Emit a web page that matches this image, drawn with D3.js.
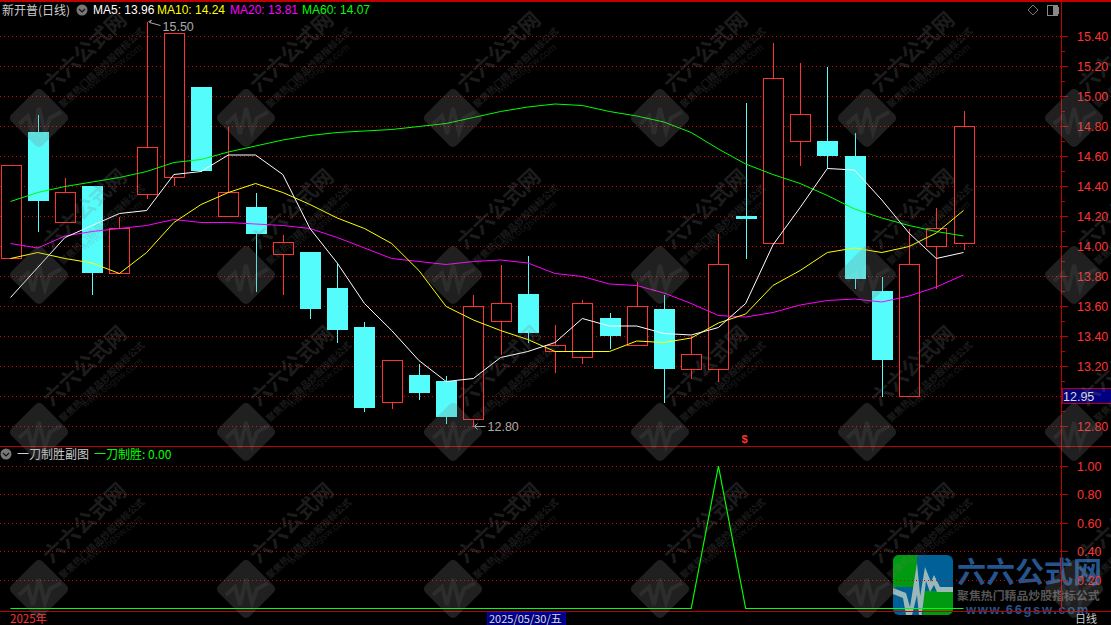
<!DOCTYPE html>
<html><head><meta charset="utf-8">
<style>html,body{margin:0;padding:0;background:#000;overflow:hidden}svg{display:block}text{font-family:"Liberation Sans",Arial,sans-serif}.cjk{font-family:"Noto Sans CJK SC","Liberation Sans",sans-serif}.crisp line,.crisp rect{shape-rendering:crispEdges}</style>
<script src="https://cdn.jsdelivr.net/npm/d3@7"></script></head><body><svg id="c" width="1111" height="625"></svg>
<script>
const opens =[13.92,14.76,14.16,14.40,13.82,14.35,14.46,15.06,14.20,14.26,13.95,13.96,13.72,13.46,12.96,13.14,13.10,12.85,13.50,13.68,13.30,13.26,13.52,13.34,13.58,13.18,13.18,14.20,14.02,14.70,14.70,14.60,13.70,13.00,14.00,14.02];
const closes=[14.54,14.30,14.36,13.82,14.12,14.66,15.42,14.50,14.36,14.08,14.03,13.58,13.44,12.92,13.24,13.02,12.86,13.60,13.62,13.42,13.34,13.62,13.40,13.60,13.18,13.28,13.88,14.18,15.12,14.88,14.60,13.78,13.24,13.88,14.12,14.80];
const highs =[14.54,14.88,14.46,14.41,14.20,15.50,15.42,15.06,14.80,14.36,14.08,13.96,13.89,13.50,13.24,13.22,13.14,13.68,13.88,13.94,13.48,13.65,13.56,13.77,13.68,13.41,14.09,14.96,15.36,15.23,15.20,14.76,13.80,14.12,14.26,14.91];
const lows  =[13.92,14.10,14.16,13.68,13.82,14.32,14.41,14.50,14.20,13.70,13.68,13.52,13.36,12.90,12.92,12.98,12.82,12.80,13.28,13.36,13.16,13.22,13.32,13.34,12.96,13.12,13.10,13.92,14.02,14.54,14.52,13.72,13.00,13.00,13.72,13.98];
const ma5 =[13.66,13.86,14.06,14.14,14.22,14.24,14.48,14.50,14.61,14.61,14.48,14.12,13.89,13.62,13.44,13.24,13.10,13.12,13.26,13.30,13.36,13.52,13.47,13.47,13.42,13.41,13.46,13.62,14.01,14.26,14.52,14.51,14.31,14.09,13.92,13.96];
const ma10=[13.92,13.96,13.92,13.89,13.82,13.96,14.16,14.28,14.36,14.42,14.36,14.28,14.19,14.12,14.02,13.84,13.60,13.51,13.44,13.38,13.30,13.30,13.30,13.37,13.36,13.39,13.49,13.55,13.74,13.84,13.96,13.99,13.96,14.00,14.09,14.24];
const ma20=[14.02,13.99,14.07,14.10,14.12,14.14,14.18,14.16,14.16,14.15,14.14,14.12,14.06,13.99,13.92,13.90,13.88,13.90,13.91,13.89,13.82,13.80,13.75,13.74,13.69,13.62,13.54,13.53,13.56,13.61,13.64,13.65,13.63,13.67,13.73,13.81];
const ma60=[14.30,14.36,14.40,14.43,14.46,14.50,14.56,14.58,14.63,14.67,14.71,14.74,14.76,14.77,14.78,14.80,14.82,14.86,14.90,14.93,14.95,14.94,14.90,14.87,14.83,14.76,14.65,14.55,14.48,14.42,14.34,14.25,14.19,14.14,14.10,14.07];
const signal=[0,0,0,0,0,0,0,0,0,0,0,0,0,0,0,0,0,0,0,0,0,0,0,0,0,0,1,0,0,0,0,0,0,0,0,0];
const priceTicks=[15.4,15.2,15.0,14.8,14.6,14.4,14.2,14.0,13.8,13.6,13.4,13.2,13.0,12.8];
const priceLabels=[15.4,15.2,15.0,14.8,14.6,14.4,14.2,14.0,13.8,13.6,13.4,13.2,12.8];
const minorTicks=[15.3,15.1,14.9,14.7,14.5,14.3,14.1,13.9,13.7,13.5,13.3,13.1,12.9];
const signalTicks=[1.0,0.8,0.6,0.4,0.2];
const maInfo=[["MA5: 13.96","#ffffff",93],["MA10: 14.24","#ffff00",157],["MA20: 13.81","#ff00ff",230],["MA60: 14.07","#00ff00",302]];

const RED="#ff3232",DK="#c00000",CY="#54fcfc";
const svg=d3.select("#c").attr("class","crisp");
const x=d3.scaleLinear().domain([0,35]).range([10.5,963.5]);
const px=i=>Math.round(x(i))+.5;
const y=d3.scaleLinear().domain([12.8,15.4]).range([426.5,36.5]);
const py=v=>Math.floor(y(v)+.01)+.5;
const y2=d3.scaleLinear().domain([0,1]).range([608.5,466]);
const py2=v=>Math.floor(y2(v)+.01)+.5;
const idx=d3.range(opens.length);

svg.append("rect").attr("width",1111).attr("height",625).attr("fill","#000");

// logo (beneath the chart)
const logo=svg.append("g").attr("transform","translate(893,555)");
logo.append("rect").attr("width",60).attr("height",60).attr("rx",6).attr("fill","#006098").style("shape-rendering","auto");
const clip=svg.append("clipPath").attr("id","lc");clip.append("rect").attr("width",60).attr("height",60).attr("rx",6);
const lg=logo.append("g").attr("clip-path","url(#lc)");
lg.append("path").attr("d","M0 0H24V32H0Z").attr("fill","#009a10");
lg.append("path").attr("d","M30 36H60V60H30Z").attr("fill","#009a10");
lg.append("path").attr("d","M0 33L13 38L17 52L24 8L29 60H26L24 40L19 60H13L10 43L0 39Z M26 48L32 12L38 27L41 20L47 32H60V37H44L41 30L37 37L33 26L29 58Z").attr("fill","#9ab8b8");
svg.append("text").attr("class","cjk").attr("x",957).attr("y",583).attr("font-size",29).attr("font-weight",700).attr("fill","#24558f").text("六六公式网");
svg.append("text").attr("class","cjk").attr("x",957).attr("y",600).attr("font-size",11.9).attr("font-weight",700).attr("fill","#555").text("聚焦热门精品炒股指标公式");
svg.append("text").attr("x",966).attr("y",614).attr("font-size",13).attr("font-weight",700).attr("letter-spacing",1.6).attr("fill","#24558f").text("www.66gsw.com");

// grid
const grid=(vals,sc)=>svg.append("g").selectAll("line").data(vals).join("line")
 .attr("x1",0).attr("x2",1061).attr("y1",sc).attr("y2",sc)
 .attr("stroke","#e00000").attr("stroke-dasharray","1 3");
grid(priceTicks,py);grid(signalTicks,py2);

// frame
[[0,1111,.5,.5],[0,1111,446.5,446.5],[0,1111,611.5,611.5],[1061.5,1061.5,0,611]].forEach(l=>
 svg.append("line").attr("x1",l[0]).attr("x2",l[1]).attr("y1",l[2]).attr("y2",l[3]).attr("stroke",DK).attr("stroke-width",l[2]==.5?2:1));

// axis
svg.append("g").selectAll("line").data(priceTicks).join("line").attr("x1",1062).attr("x2",1068).attr("y1",py).attr("y2",py).attr("stroke",DK);
svg.append("g").selectAll("line").data(minorTicks).join("line").attr("x1",1062).attr("x2",1065).attr("y1",py).attr("y2",py).attr("stroke",DK);
svg.append("g").selectAll("line").data(signalTicks).join("line").attr("x1",1062).attr("x2",1068).attr("y1",py2).attr("y2",py2).attr("stroke",DK);
svg.append("g").selectAll("text").data(priceLabels).join("text").attr("x",1077).attr("y",d=>y(d)+4.5).attr("font-size",12.5).attr("fill",RED).text(d=>d.toFixed(2));
svg.append("g").selectAll("text").data(signalTicks).join("text").attr("x",1077).attr("y",d=>y2(d)+4.5).attr("font-size",12.5).attr("fill",RED).text(d=>d.toFixed(2));
svg.append("rect").attr("x",1062).attr("y",388.5).attr("width",50).attr("height",15).attr("fill","#000080").attr("stroke",DK);
svg.append("text").attr("x",1063).attr("y",400.5).attr("font-size",12.5).attr("fill","#ddd").text("12.95");

// wicks and bodies
const up=i=>closes[i]>=opens[i];
svg.append("g").selectAll("line").data(idx).join("line").attr("x1",px).attr("x2",px)
 .attr("y1",i=>py(highs[i])).attr("y2",i=>py(lows[i])).attr("stroke",i=>up(i)?RED:CY);
const bodies=svg.append("g").selectAll("rect").data(idx).join("rect");
bodies.attr("x",i=>up(i)?px(i)-10:px(i)-10.5).attr("width",i=>up(i)?20:21)
 .attr("y",i=>up(i)?py(closes[i]):py(opens[i])-.5)
 .attr("height",i=>Math.max(up(i)?1:2,Math.abs(py(closes[i])-py(opens[i]))))
 .attr("fill",i=>up(i)?"#000":CY).attr("stroke",i=>up(i)?RED:"none").attr("stroke-width",1);

// moving averages
const ln=d3.line().x((d,i)=>x(i)).y(d=>y(d));
[[ma60,"#00ff00"],[ma20,"#ff00ff"],[ma10,"#ffff00"],[ma5,"#ffffff"]].forEach(s=>
 svg.append("path").attr("d",ln(s[0])).attr("fill","none").attr("stroke",s[1]).attr("stroke-width",1));

// signal line
svg.append("path").attr("d",d3.line().x((d,i)=>x(i)).y(d=>y2(d))(signal)).attr("fill","none").attr("stroke","#00ff00").attr("stroke-width",1.2);

// high/low notes
const hiI=highs.indexOf(d3.max(highs)),loI=lows.indexOf(d3.min(lows));
svg.append("path").attr("d",`M${px(hiI)+1} ${py(highs[hiI])}l3 -1l-2 2l11 3`).attr("fill","none").attr("stroke","#aaa");
svg.append("text").attr("x",px(hiI)+15).attr("y",py(highs[hiI])+9).attr("font-size",12.5).attr("fill","#aaa").text(d3.max(highs).toFixed(2));
svg.append("path").attr("d",`M${px(loI)+12} ${py(lows[loI])}h-11l3 -3m-3 3l3 3`).attr("fill","none").attr("stroke","#aaa");
svg.append("text").attr("x",px(loI)+14).attr("y",py(lows[loI])+4.5).attr("font-size",12.5).attr("fill","#aaa").text(d3.min(lows).toFixed(2));
svg.append("text").attr("x",x(27)-1).attr("y",443).attr("text-anchor","middle").attr("font-size",11).attr("font-weight",700).attr("fill",RED).text("$");

// header texts
svg.append("text").attr("class","cjk").attr("x",2).attr("y",15).attr("font-size",12).attr("fill","#ccc").text("新开普(日线)");
const chev=(cx,cy)=>{svg.append("circle").attr("cx",cx).attr("cy",cy).attr("r",5.5).attr("fill","#777");
 svg.append("path").attr("d",`M${cx-3} ${cy-1}l3 3l3 -3`).attr("fill","none").attr("stroke","#111").attr("stroke-width",1.2);};
chev(82,10);chev(6,454);
svg.append("g").selectAll("text").data(maInfo).join("text").attr("x",d=>d[2]).attr("y",14).attr("font-size",12).attr("fill",d=>d[1]).text(d=>d[0]);
svg.append("path").attr("d","M1033 5l5 5l-5 5l-5 -5Z").attr("fill","none").attr("stroke","#777");
svg.append("rect").attr("x",1047).attr("y",5.5).attr("width",11).attr("height",10).attr("rx",1.5).attr("fill","#000").attr("stroke","#888");
svg.append("rect").attr("x",1053).attr("y",6).attr("width",4.5).attr("height",9).attr("fill","#888");
svg.append("text").attr("class","cjk").attr("x",17).attr("y",459).attr("font-size",12).attr("fill","#ccc").text("一刀制胜副图");
svg.append("text").attr("class","cjk").attr("x",94).attr("y",459).attr("font-size",12).attr("fill","#00ff00").text("一刀制胜: 0.00");
svg.append("text").attr("class","cjk").attr("x",10).attr("y",623).attr("font-size",11.5).attr("fill",RED).text("2025年");
svg.append("rect").attr("x",487.5).attr("y",612).attr("width",78).attr("height",13).attr("fill","#000080").attr("stroke","#0000c0");
svg.append("text").attr("class","cjk").attr("x",489).attr("y",622.5).attr("font-size",11).attr("fill","#ddd").text("2025/05/30/五");
svg.append("text").attr("class","cjk").attr("x",1075).attr("y",623).attr("font-size",11).attr("fill","#ccc").text("日线");

// tiled watermark on top of everything
const cells=[];[118,275,432,589].forEach(r=>[39,246,453,660,867,1074].forEach(c=>cells.push([c,r])));
const wm=svg.append("g").attr("pointer-events","none").selectAll("g").data(cells).join("g").attr("transform",d=>`translate(${d[0]},${d[1]})`);
wm.append("rect").attr("x",-22).attr("y",-22).attr("width",44).attr("height",44).attr("rx",5).attr("transform","rotate(45)").attr("fill","#808080").attr("opacity",.25).style("shape-rendering","auto");
wm.append("path").attr("d","M-20 6L-11 -2L-6 16L0 -10L6 14L11 0L22 -6").attr("fill","none").attr("stroke","#fff").attr("stroke-opacity",.06).attr("stroke-width",4);
wm.append("text").attr("class","cjk").attr("transform","translate(46,-66) rotate(-43)").attr("text-anchor","middle").attr("dy",7).attr("font-size",21).attr("font-weight",700).attr("fill","#808080").attr("opacity",.22).text("六六公式网");
wm.append("text").attr("class","cjk").attr("transform","translate(63,-50) rotate(-43)").attr("text-anchor","middle").attr("dy",3).attr("font-size",9.4).attr("font-weight",700).attr("fill","#808080").attr("opacity",.2).text("聚焦热门精品炒股指标公式");
wm.append("text").attr("transform","translate(73,-49) rotate(-38)").attr("text-anchor","middle").attr("dy",3).attr("font-size",10).attr("fill","#808080").attr("opacity",.18).text("www.66gsw.com");
</script></body></html>
